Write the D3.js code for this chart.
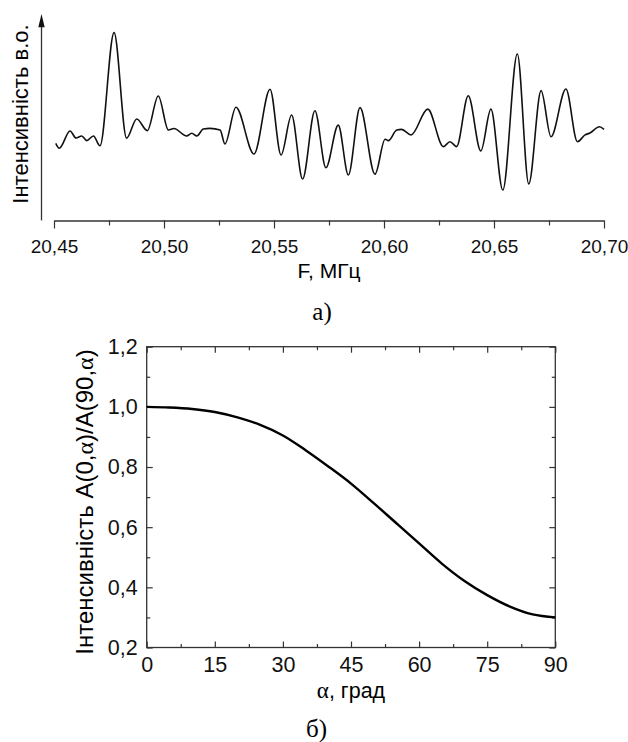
<!DOCTYPE html>
<html><head><meta charset="utf-8">
<script src="https://cdn.jsdelivr.net/npm/d3@7/dist/d3.min.js"></script>
<style>body{margin:0;background:#fff} svg{display:block}</style>
</head><body>
<svg id="c" width="628" height="742"></svg>
<script>
// ---- Chart a): spectrum ----
const freq = [20.4508,20.4524,20.4573,20.4600,20.4626,20.4649,20.4679,20.4709,20.4773,20.4830,
  20.4876,20.4924,20.4974,20.5020,20.5045,20.5103,20.5126,20.5149,20.5179,20.5209,20.5255,20.5277,
  20.5327,20.5409,20.5482,20.5532,20.5580,20.5630,20.5686,20.5736,20.5792,20.5838,20.5891,20.5959,
  20.6005,20.6020,20.6058,20.6080,20.6123,20.6199,20.6270,20.6300,20.6330,20.6383,20.6440,20.6486,
  20.6540,20.6606,20.6658,20.6714,20.6759,20.6827,20.6879,20.6914,20.6936,20.6979,20.7000];
const intensity = [37.4,35.0,43.4,40.0,41.0,38.7,41.0,36.2,91.4,39.9,
  49.3,43.6,60.5,43.9,44.6,41.0,42.3,41.0,44.4,44.7,43.9,37.1,
  55.0,32.2,63.8,31.7,51.2,20.0,53.3,25.5,46.3,22.0,54.8,22.3,
  39.4,38.7,43.9,44.2,41.5,54.1,35.8,38.2,35.8,60.6,33.7,54.1,
  14.6,81.0,17.6,63.1,40.6,63.9,38.2,41.5,42.4,45.5,44.2];
const fTicks = [20.45,20.50,20.55,20.60,20.65,20.70];
const fMinor = [20.475,20.525,20.575,20.625,20.675];

// ---- Chart б): ratio vs angle ----
const angle = [0,5,10,15,20,25,30,35,40,45,50,55,60,65,70,75,80,85,90];
const ratio = [1.000,0.998,0.993,0.983,0.965,0.940,0.905,0.856,0.802,0.745,0.680,0.613,0.546,0.479,0.421,0.374,0.336,0.310,0.300];
const aTicks = [0,15,30,45,60,75,90];
const aMinor = [7.5,22.5,37.5,52.5,67.5,82.5];
const rTicks = [0.2,0.4,0.6,0.8,1.0,1.2];
const rMinor = [0.3,0.5,0.7,0.9,1.1];

const SANS = "'Liberation Sans', Arial, sans-serif";
const SERIF = "'Liberation Serif', 'Times New Roman', serif";
const comma = (d, n) => d.toFixed(n).replace('.', ',');
const svg = d3.select('#c');
const AX = '#333';

// ===== top chart =====
const x1 = d3.scaleLinear([20.45, 20.70], [54, 604]);
const y1 = d3.scaleLinear([0, 100], [220, 15]);

const gx1 = svg.append('g').attr('transform', 'translate(0,220.5)')
  .call(d3.axisBottom(x1).tickValues(fTicks).tickSizeInner(8).tickSizeOuter(0).tickPadding(11).tickFormat(d => comma(d, 2)));
svg.append('g').attr('transform', 'translate(0,220.5)')
  .call(d3.axisBottom(x1).tickValues(fMinor).tickSizeInner(5).tickSizeOuter(0).tickFormat(''))
  .select('.domain').remove();

// y axis arrow (no ticks)
svg.append('line').attr('x1', 41.5).attr('x2', 41.5).attr('y1', y1(-0.2)).attr('y2', y1(95))
  .attr('stroke', AX).attr('stroke-width', 1.3);
svg.append('path').attr('d', d3.line()([[41.5, y1(100.5)], [38.3, y1(94)], [44.7, y1(94)]]) + 'Z').attr('fill', '#111');

svg.append('path').datum(freq.map((f, i) => [f, intensity[i]]))
  .attr('fill', 'none').attr('stroke', '#111').attr('stroke-width', 1.6)
  .attr('d', d3.line().x(d => x1(d[0])).y(d => y1(d[1])).curve(d3.curveMonotoneX));

svg.append('text').attr('transform', `translate(28,${y1(51.7)}) rotate(-90)`).attr('text-anchor', 'middle')
  .attr('font-family', SANS).attr('font-size', 22).text('Інтенсивність в.о.');
svg.append('text').attr('x', 329).attr('y', 278).attr('text-anchor', 'middle')
  .attr('font-family', SANS).attr('font-size', 21).text('F, МГц');
svg.append('text').attr('x', 322).attr('y', 320).attr('text-anchor', 'middle')
  .attr('font-family', SERIF).attr('font-size', 25).text('а)');

// ===== bottom chart =====
const x2 = d3.scaleLinear([0, 90], [146.7, 555.3]);
const y2 = d3.scaleLinear([0.2, 1.2], [647.5, 346.7]);

function ax(axisFn, scale, vals, size, labels, transform, fmt) {
  const g = svg.append('g').attr('class', 'b').attr('transform', transform)
    .call(axisFn(scale).tickValues(vals).tickSizeInner(size).tickSizeOuter(0).tickPadding(labels ? 9 : 0)
      .tickFormat(labels ? fmt : ''));
  g.select('.domain').remove();
  return g;
}
ax(d3.axisBottom, x2, aTicks, -6, true, `translate(0,${y2(0.2)})`, d => d);
ax(d3.axisBottom, x2, aMinor, -3.5, false, `translate(0,${y2(0.2)})`);
ax(d3.axisTop, x2, aTicks, -6, false, `translate(0,${y2(1.2)})`);
ax(d3.axisTop, x2, aMinor, -3.5, false, `translate(0,${y2(1.2)})`);
ax(d3.axisLeft, y2, rTicks, -6, true, `translate(${x2(0)},0)`, d => comma(d, 1));
ax(d3.axisLeft, y2, rMinor, -3.5, false, `translate(${x2(0)},0)`);
ax(d3.axisRight, y2, rTicks, -6, false, `translate(${x2(90)},0)`);
ax(d3.axisRight, y2, rMinor, -3.5, false, `translate(${x2(90)},0)`);

svg.append('rect').attr('x', x2(0)).attr('y', y2(1.2)).attr('width', x2(90) - x2(0)).attr('height', y2(0.2) - y2(1.2))
  .attr('fill', 'none').attr('stroke', AX).attr('stroke-width', 1.3);

svg.append('path').datum(angle.map((a, i) => [a, ratio[i]]))
  .attr('fill', 'none').attr('stroke', '#000').attr('stroke-width', 2.4)
  .attr('d', d3.line().x(d => x2(d[0])).y(d => y2(d[1])).curve(d3.curveCatmullRom.alpha(0.5)));

// axis styles
svg.selectAll('.tick text').attr('font-family', SANS).attr('fill', '#111');
svg.selectAll('.tick line').attr('stroke', AX).attr('stroke-width', 1.2);
svg.selectAll('.domain').attr('stroke', AX).attr('stroke-width', 1.3);
gx1.selectAll('.tick text').attr('font-size', 19);
svg.selectAll('g.b .tick text').attr('font-size', 21.5);

const yl = svg.append('text').attr('transform', `translate(93,502) rotate(-90)`).attr('text-anchor', 'middle')
  .attr('font-family', SANS).attr('font-size', 24);
yl.append('tspan').text('Інтенсивність A(0,');
yl.append('tspan').attr('font-family', SERIF).text('α');
yl.append('tspan').text(')/A(90,');
yl.append('tspan').attr('font-family', SERIF).text('α');
yl.append('tspan').text(')');

const xl = svg.append('text').attr('x', 351).attr('y', 698).attr('text-anchor', 'middle')
  .attr('font-family', SANS).attr('font-size', 21.5);
xl.append('tspan').attr('font-family', SERIF).attr('font-size', 23).text('α');
xl.append('tspan').text(', град');

svg.append('text').attr('x', 316.5).attr('y', 737).attr('text-anchor', 'middle')
  .attr('font-family', SERIF).attr('font-size', 25).text('б)');
</script>
</body></html>
